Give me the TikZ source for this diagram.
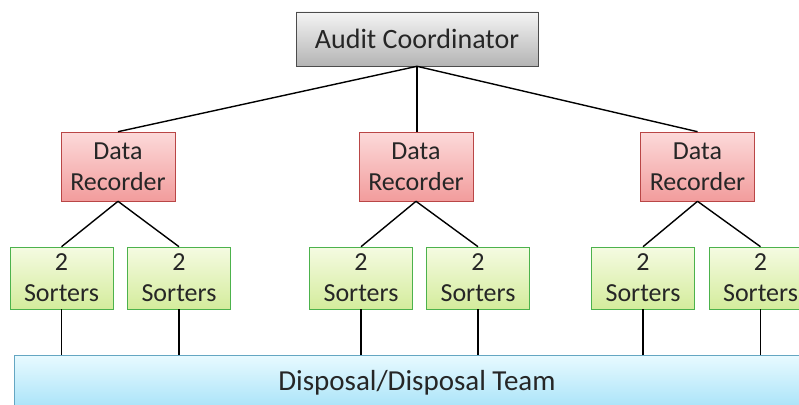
\documentclass[tikz,border=0pt]{standalone}
\usepackage{fontspec}
\setmainfont{Carlito}
\definecolor{gtop}{HTML}{F4F4F4}
\definecolor{gbot}{HTML}{B4B4B4}
\definecolor{ptop}{HTML}{FCDADA}
\definecolor{pbot}{HTML}{F29C9C}
\definecolor{ltop}{HTML}{F5FBE2}
\definecolor{lbot}{HTML}{D4EC9C}
\definecolor{btop}{HTML}{E8FAFF}
\definecolor{bbot}{HTML}{A6E2F8}
\begin{document}
\begin{tikzpicture}[x=1pt,y=-1pt,
  box/.style={draw=#1, line width=0.6pt, align=center, inner sep=0pt, font=\fontsize{26}{31}\selectfont, text=black!85},
  coord/.style={box=black!70, top color=gtop, bottom color=gbot, minimum width=242pt, minimum height=54pt, font=\fontsize{28}{32}\selectfont},
  recbox/.style={box=red!45!gray, top color=ptop, bottom color=pbot, minimum width=114pt, minimum height=69pt},
  sortbox/.style={box=green!40!gray, top color=ltop, bottom color=lbot, minimum width=103pt, minimum height=62pt},
  dispbox/.style={box=cyan!50!gray, top color=btop, bottom color=bbot, minimum width=806pt, minimum height=56pt},
  link/.style={line width=1.4pt, black}]
\useasboundingbox (0,0) rectangle (799,404);
\clip (0,0) rectangle (799,404);
\fill[white] (0,0) rectangle (799,404);
\node[coord] (ac) at (417,39) {Audit Coordinator};
\node[recbox] (r1) at (118,166.5) {Data\\Recorder};
\node[recbox] (r2) at (416,166.5) {Data\\Recorder};
\node[recbox] (r3) at (697.5,166.5) {Data\\Recorder};
\node[sortbox] (s1) at (61.5,278) {2\\Sorters};
\node[sortbox] (s2) at (179,278) {2\\Sorters};
\node[sortbox] (s3) at (361,278) {2\\Sorters};
\node[sortbox] (s4) at (478,278) {2\\Sorters};
\node[sortbox] (s5) at (643,278) {2\\Sorters};
\node[sortbox] (s6) at (760.5,278) {2\\Sorters};
\node[dispbox] (dp) at (417,383) {};
\node[font=\fontsize{29}{33}\selectfont, text=black!85] (dt) at (417,383) {Disposal/Disposal Team};
\draw[link] (ac.south) -- (r1.north);
\draw[link] (ac.south) -- (ac.south |- r2.north);
\draw[link] (ac.south) -- (r3.north);
\foreach \r/\a/\b in {r1/s1/s2, r2/s3/s4, r3/s5/s6}{
  \draw[link] (\r.south) -- (\a.north);
  \draw[link] (\r.south) -- (\b.north);
}
\foreach \s in {s1,s2,s3,s4,s5,s6}{
  \draw[link] (\s.south) -- (\s.south |- dp.north);
}
\end{tikzpicture}
\end{document}
